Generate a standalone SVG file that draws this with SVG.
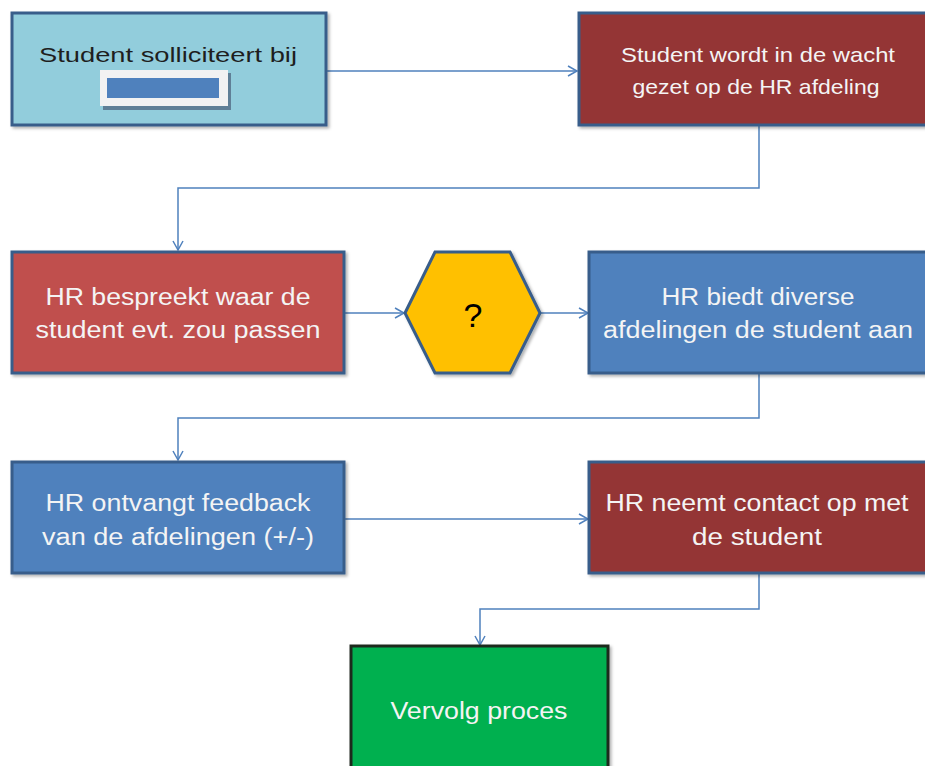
<svg xmlns="http://www.w3.org/2000/svg" width="925" height="766" viewBox="0 0 925 766">
<style>
.box{stroke:#385D8A;stroke-width:3}
.conn{fill:none;stroke:#4F81BD;stroke-width:1.5}
.t{font-family:"Liberation Sans",Arial,sans-serif;font-size:23px;fill:#F4F4F4;text-anchor:middle}
.ts{font-size:21px}
.dark{fill:#1E1E1E}
</style>
<defs>
<marker id="arr" markerWidth="12" markerHeight="12" refX="10" refY="6" orient="auto" markerUnits="userSpaceOnUse">
<path d="M1,1 L10,6 L1,11" fill="none" stroke="#4F81BD" stroke-width="1.5"/>
</marker>
<filter id="sh" x="-5%" y="-5%" width="115%" height="115%">
<feDropShadow dx="2" dy="2" stdDeviation="1.5" flood-color="#000" flood-opacity="0.3"/>
</filter>
</defs>
<rect width="925" height="766" fill="#FFFFFF"/>
<g id="connectors">
<path class="conn" d="M326,71 H577" marker-end="url(#arr)"/>
<path class="conn" d="M759,125 V188 H178 V250" marker-end="url(#arr)"/>
<path class="conn" d="M344,313 H404" marker-end="url(#arr)"/>
<path class="conn" d="M540,313 H588" marker-end="url(#arr)"/>
<path class="conn" d="M759,373 V418 H178 V460" marker-end="url(#arr)"/>
<path class="conn" d="M344,519 H588" marker-end="url(#arr)"/>
<path class="conn" d="M759,573 V609 H480 V645" marker-end="url(#arr)"/>
</g>
<g id="n1">
<rect class="box" x="12" y="13" width="314" height="112" fill="#92CDDC" filter="url(#sh)"/>
<text class="t ts dark" x="168" y="62" textLength="258" lengthAdjust="spacingAndGlyphs">Student solliciteert bij</text>
<rect x="103" y="73" width="128" height="37" fill="#5F7F96"/>
<rect x="100" y="70" width="128" height="36" fill="#F2F2F2"/>
<rect x="107" y="78" width="112" height="20" fill="#4F81BD"/>
</g>
<g id="n2">
<rect class="box" x="579" y="13" width="352" height="112" fill="#943634" filter="url(#sh)"/>
<text class="t ts" x="758" y="62" textLength="274" lengthAdjust="spacingAndGlyphs">Student wordt in de wacht</text>
<text class="t ts" x="756" y="94" textLength="247" lengthAdjust="spacingAndGlyphs">gezet op de HR afdeling</text>
</g>
<g id="n3">
<rect class="box" x="12" y="252" width="332" height="121" fill="#C0504D" filter="url(#sh)"/>
<text class="t" x="178" y="305" textLength="265" lengthAdjust="spacingAndGlyphs">HR bespreekt waar de</text>
<text class="t" x="178" y="338" textLength="285" lengthAdjust="spacingAndGlyphs">student evt. zou passen</text>
</g>
<g id="n4">
<polygon class="box" points="405,313 435,252 510,252 540,313 510,373 435,373" fill="#FFC000" filter="url(#sh)"/>
<text class="t dark" x="473" y="327" style="font-size:34px;fill:#000">?</text>
</g>
<g id="n5">
<rect class="box" x="589" y="252" width="342" height="121" fill="#4F81BD" filter="url(#sh)"/>
<text class="t" x="758" y="305" textLength="193" lengthAdjust="spacingAndGlyphs">HR biedt diverse</text>
<text class="t" x="758" y="338" textLength="310" lengthAdjust="spacingAndGlyphs">afdelingen de student aan</text>
</g>
<g id="n6">
<rect class="box" x="12" y="462" width="332" height="111" fill="#4F81BD" filter="url(#sh)"/>
<text class="t" x="178" y="511" textLength="265" lengthAdjust="spacingAndGlyphs">HR ontvangt feedback</text>
<text class="t" x="178" y="545" textLength="272" lengthAdjust="spacingAndGlyphs">van de afdelingen (+/-)</text>
</g>
<g id="n7">
<rect class="box" x="589" y="462" width="342" height="111" fill="#943634" filter="url(#sh)"/>
<text class="t" x="757" y="511" textLength="303" lengthAdjust="spacingAndGlyphs">HR neemt contact op met</text>
<text class="t" x="757" y="545" textLength="130" lengthAdjust="spacingAndGlyphs">de student</text>
</g>
<g id="n8">
<rect x="351" y="646" width="257" height="130" fill="#00B050" stroke="#1E2A1E" stroke-width="3" filter="url(#sh)"/>
<text class="t" x="479" y="719" textLength="177" lengthAdjust="spacingAndGlyphs">Vervolg proces</text>
</g>
</svg>
